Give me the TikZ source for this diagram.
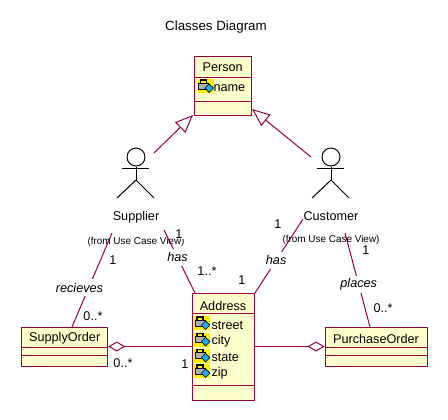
\documentclass[tikz,border=0pt]{standalone}
\usepackage{fontspec}
\setmainfont{Liberation Sans}
\usetikzlibrary{arrows.meta, positioning, calc}
\definecolor{umlline}{HTML}{99003F}
\definecolor{umlfill}{HTML}{FFFFCC}
\definecolor{keyblue}{HTML}{19B4F0}

\begin{document}
\begin{tikzpicture}[
        x=0.75pt, y=-0.75pt, line width=0.75pt,
        every node/.style={font=\fontsize{9.5pt}{11pt}\selectfont, inner sep=0pt},
        classbox/.style={draw=umlline, fill=umlfill, minimum height=39*0.75pt},
        divider/.style={draw=umlline},
        assoc/.style={draw=umlline},
        inherit/.style={draw=umlline, -{Triangle[open, length=13.5pt, width=11pt]}},
        aggregate/.style={draw=umlline, -{Diamond[open, length=12.75pt, width=7.5pt]}},
        rolelabel/.style={fill=white, minimum height=13pt, font=\fontsize{9.5pt}{11pt}\selectfont\itshape},
        multi/.style={fill=white, inner sep=0.5pt},
        viewtext/.style={font=\fontsize{7.45pt}{9pt}\selectfont},
        actor/.pic={
            \node[draw, circle, minimum size=18*0.75pt] (-head) at (0,0) {};
            \draw (-head) -- (0,23);
            \draw (-14,11.5) -- (13,11.5);
            \draw (-19,41) -- (0,23) -- (18,41);
        },
        attricon/.pic={
            \fill[yellow] (-8,-7) rectangle (8,7);
            \draw[fill=gray!60, line width=0.5pt] (-7,-3) rectangle (3,3);
            \draw[line width=0.8pt] (-5,-3) -- (-5,-6) -- (1,-6) -- (1,-3);
            \draw[fill=keyblue, line width=0.5pt] (-0.5,2) -- (3.5,-2) -- (8,2) -- (3.5,6.5) -- cycle;
        }
    ]
    \useasboundingbox (0,0) rectangle (448,419);

    % classes
    \node[classbox, minimum width=57*0.75pt, minimum height=58.5*0.75pt] (person) at (222.7,86) {};
    \node[classbox, minimum width=86*0.75pt] (supplyorder) at (64.7,346.5) {};
    \node[classbox, minimum width=62*0.75pt, minimum height=107*0.75pt] (address) at (223,346.5) {};
    \node[classbox, minimum width=102*0.75pt] (purchaseorder) at (376,346.5) {};

    \node (persontitle) at ($(person.north)+(0,10.5)$) {Person};
    \node (supplytitle) at ($(supplyorder.north)+(0,12)$) {SupplyOrder};
    \node (addresstitle) at ($(address.north)+(0,13)$) {Address};
    \node (purchasetitle) at ($(purchaseorder.north)+(0,12)$) {PurchaseOrder};

    % compartments
    \foreach \cls/\ypos in {person/21,person/45,address/21,address/93,supplyorder/21,supplyorder/29,purchaseorder/21,purchaseorder/29}
        \draw[divider] ($(\cls.north west)+(0,\ypos)$) -- ($(\cls.north east)+(0,\ypos)$);

    % attributes
    \pic at (205.5,86) {attricon};
    \node[anchor=west] (name) at (213,88) {name};
    \foreach \attr/\ypos in {street/323,city/339.5,state/355.5,zip/371}{
        \pic at (202,\ypos) {attricon};
        \node[anchor=west] (\attr) at (211,\ypos+2) {\attr};
    }

    % actors
    \pic (supplier) at (136,157) {actor};
    \pic (customer) at (331,157) {actor};
    \node[below=40.5pt of supplier-head.center] (suppliername) {Supplier};
    \node[below=40.5pt of customer-head.center] (customername) {Customer};

    % free ends
    \coordinate (supplierup) at (154,153);
    \coordinate (customerup) at (311,157);
    \coordinate (persontipl) at (193,115);
    \coordinate (persontipr) at (252,109);
    \coordinate (supplierl) at (112,233);
    \coordinate (supplierr) at (164,230);
    \coordinate (customerl) at (303,219);
    \coordinate (customerr) at (345,233);
    \coordinate (supplytop) at (72,327);
    \coordinate (addressl) at (195,293);
    \coordinate (addressr) at (255,293);
    \coordinate (purchasetop) at (370,327);

    % connectors
    \draw[inherit] (supplierup) -- (persontipl);
    \draw[inherit] (customerup) -- (persontipr);
    \draw[assoc] (supplierl) -- node[rolelabel, pos=0.58, xshift=-7pt] (recieves) {recieves} (supplytop);
    \draw[assoc] (supplierr) -- node[rolelabel, pos=0.435] (hasleft) {has} (addressl);
    \draw[assoc] (customerl) -- node[rolelabel, pos=0.56] (hasright) {has} (addressr);
    \draw[assoc] (customerr) -- node[rolelabel, pos=0.55] (places) {places} (purchasetop);
    \draw[aggregate] (address.west |- supplyorder.east) -- (supplyorder.east);
    \draw[aggregate] (address.east |- purchaseorder.west) -- (purchaseorder.west);

    % texts on top
    \node[below=10pt of suppliername, viewtext] (supplierview) {(from Use Case View)};
    \node[below=10pt of customername, viewtext] (customerview) {(from Use Case View)};
    \node (title) at (216,27) {\fontsize{10pt}{12pt}\selectfont Classes Diagram};

    \node[multi] (m1) at (113,260) {1};
    \node[multi] (m2) at (93,316) {0..*};
    \node[multi] (m3) at (179,234) {1};
    \node[multi] (m4) at (207,271) {1..*};
    \node[multi] (m5) at (278,224) {1};
    \node[multi] (m6) at (242,280) {1};
    \node[multi] (m7) at (366,250) {1};
    \node[multi] (m8) at (383,308) {0..*};
    \node[multi] (m9) at (123,363) {0..*};
    \node[multi] (m10) at (185,364) {1};
\end{tikzpicture}
\end{document}
